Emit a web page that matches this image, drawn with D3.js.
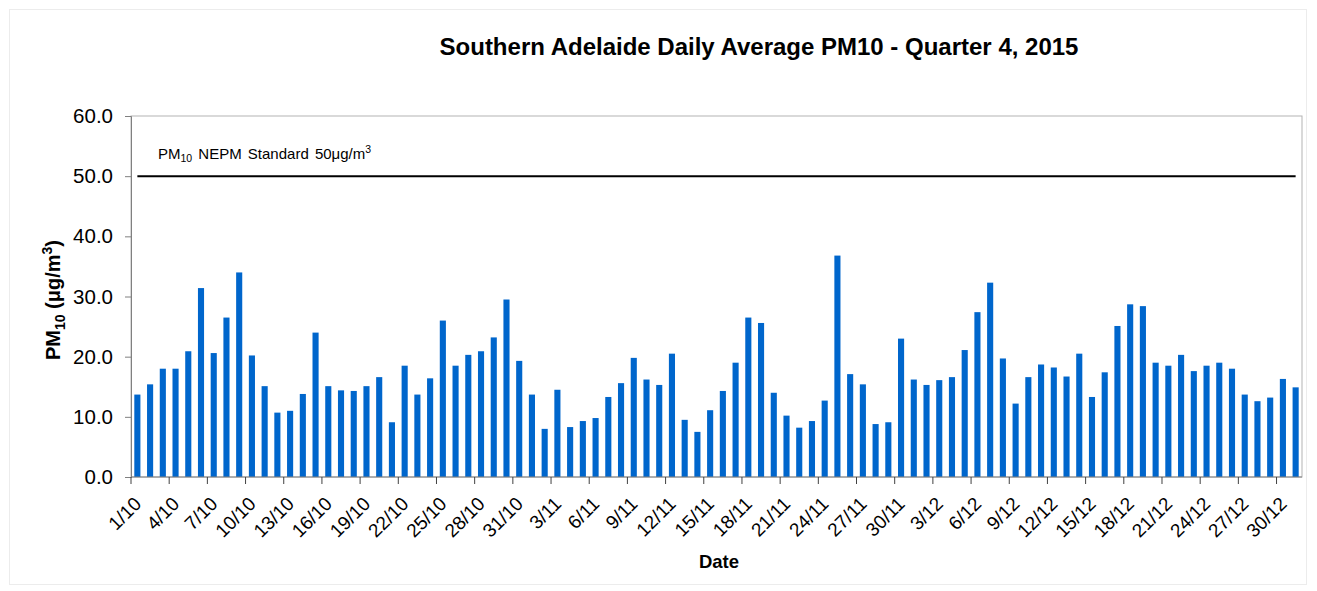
<!DOCTYPE html>
<html lang="en">
<head>
  <meta charset="UTF-8">
  <title>Southern Adelaide Daily Average PM10</title>
  <script src="https://d3js.org/d3.v7.min.js"></script>
  <style>
    body { margin: 0; background: #fff; }
    text { font-family: "Liberation Sans", Arial, sans-serif; fill: #000; }
    .axis path, .axis line { stroke: #808080; }
  </style>
</head>
<body>
  <svg id="chart" width="1317" height="591"></svg>

  <script>
    // Daily averages, 1 Oct - 31 Dec 2015 (ug/m3)
    const octValues = [13.7, 15.4, 18.0, 18.0, 20.9, 31.4, 20.6, 26.5, 34.0, 20.2,
      15.1, 10.7, 11.0, 13.8, 24.0, 15.1, 14.4, 14.3, 15.1, 16.6,
      9.1, 18.5, 13.7, 16.4, 26.0, 18.5, 20.3, 20.9, 23.2, 29.5, 19.3];
    const novValues = [13.7, 8.0, 14.5, 8.3, 9.3, 9.8, 13.3, 15.6, 19.8, 16.2,
      15.3, 20.5, 9.5, 7.5, 11.1, 14.3, 19.0, 26.5, 25.6, 14.0,
      10.2, 8.2, 9.3, 12.7, 36.8, 17.1, 15.4, 8.8, 9.1, 23.0];
    const decValues = [16.2, 15.3, 16.1, 16.6, 21.1, 27.4, 32.3, 19.7, 12.2, 16.6,
      18.7, 18.2, 16.7, 20.5, 13.3, 17.4, 25.1, 28.7, 28.4, 19.0,
      18.5, 20.3, 17.6, 18.5, 19.0, 18.0, 13.7, 12.6, 13.2, 16.3, 14.9];
    const values = octValues.concat(novValues, decValues);

    const days = d3.timeDay.range(new Date(2015, 9, 1), new Date(2016, 0, 1));
    const dateLabels = days.map(d => d3.timeFormat("%-d/%-m")(d));
    const yTicks = [0, 10, 20, 30, 40, 50, 60];
    const standard = 50;

    const svg = d3.select("#chart");
    const margin = { top: 116, right: 15, bottom: 114, left: 131 };
    const width = 1317 - margin.left - margin.right;
    const height = 591 - margin.top - margin.bottom;

    // faint outer border of the chart area
    svg.append("rect")
      .attr("x", 9.5).attr("y", 9.5)
      .attr("width", 1297).attr("height", 575)
      .attr("fill", "none")
      .attr("stroke", "#ececec");

    const g = svg.append("g").attr("transform", `translate(${margin.left},${margin.top})`);

    const x = d3.scaleBand().domain(dateLabels).range([0, width]).paddingInner(0.52).paddingOuter(0.26);
    const y = d3.scaleLinear().domain([0, 60]).range([height, 0]);

    // plot border
    g.append("rect")
      .attr("x", 0).attr("y", 0)
      .attr("width", width).attr("height", height)
      .attr("fill", "none")
      .attr("stroke", "#b3b3b3");

    g.selectAll(".bar")
      .data(values)
      .enter().append("rect")
      .attr("class", "bar")
      .attr("x", (d, i) => x(dateLabels[i]))
      .attr("y", d => y(d))
      .attr("width", x.bandwidth())
      .attr("height", d => height - y(d))
      .attr("fill", "#0066cc");

    // standard line
    const first = x(dateLabels[0]) + x.bandwidth() / 2;
    const last = x(dateLabels[dateLabels.length - 1]) + x.bandwidth() / 2;
    g.append("line")
      .attr("x1", first).attr("x2", last)
      .attr("y1", y(standard)).attr("y2", y(standard))
      .attr("stroke", "#000")
      .attr("stroke-width", 2);

    const std = g.append("text")
      .attr("x", 27).attr("y", y(standard) - 17)
      .style("font-size", "15px")
      .style("word-spacing", "2px");
    std.append("tspan").text("PM");
    std.append("tspan").attr("dy", 3).style("font-size", "10.5px").text("10");
    std.append("tspan").attr("dy", -3).text(" NEPM Standard 50μg/m");
    std.append("tspan").attr("dy", -6).style("font-size", "10.5px").text("3");

    // y axis
    const yAxis = g.append("g").attr("class", "axis")
      .call(d3.axisLeft(y).tickValues(yTicks).tickFormat(d3.format(".1f")).tickSize(6).tickPadding(12));
    yAxis.select(".domain").attr("stroke", "#808080");
    yAxis.selectAll("text").style("font-size", "20.5px").attr("fill", "#000");

    // x axis: baseline, ticks every 3 days on category boundaries
    g.append("line")
      .attr("x1", 0).attr("x2", width)
      .attr("y1", height).attr("y2", height)
      .attr("stroke", "#808080");

    const step = x.step();
    const tickIdx = d3.range(0, dateLabels.length, 3);
    g.selectAll(".xtick")
      .data(tickIdx)
      .enter().append("line")
      .attr("class", "xtick")
      .attr("x1", i => i * step).attr("x2", i => i * step)
      .attr("y1", height).attr("y2", height + 7)
      .attr("stroke", "#404040");

    g.selectAll(".xlabel")
      .data(tickIdx)
      .enter().append("text")
      .attr("class", "xlabel")
      .attr("text-anchor", "end")
      .attr("transform", i => `translate(${x(dateLabels[i]) + x.bandwidth() / 2 + 5},${height + 28}) rotate(-45)`)
      .style("font-size", "19px")
      .text(i => dateLabels[i]);

    // titles
    svg.append("text")
      .attr("x", 759).attr("y", 55)
      .attr("text-anchor", "middle")
      .style("font-size", "24px")
      .style("font-weight", "bold")
      .text("Southern Adelaide Daily Average PM10 - Quarter 4, 2015");

    svg.append("text")
      .attr("x", 719).attr("y", 568)
      .attr("text-anchor", "middle")
      .style("font-size", "18.5px")
      .style("font-weight", "bold")
      .text("Date");

    const yt = svg.append("text")
      .attr("transform", "translate(60,300) rotate(-90)")
      .attr("text-anchor", "middle")
      .style("font-size", "20px")
      .style("font-weight", "bold");
    yt.append("tspan").text("PM");
    yt.append("tspan").attr("dy", 5).style("font-size", "14px").text("10");
    yt.append("tspan").attr("dy", -5).text(" (μg/m");
    yt.append("tspan").attr("dy", -8).style("font-size", "14px").text("3");
    yt.append("tspan").attr("dy", 8).text(")");
  </script>
</body>
</html>
